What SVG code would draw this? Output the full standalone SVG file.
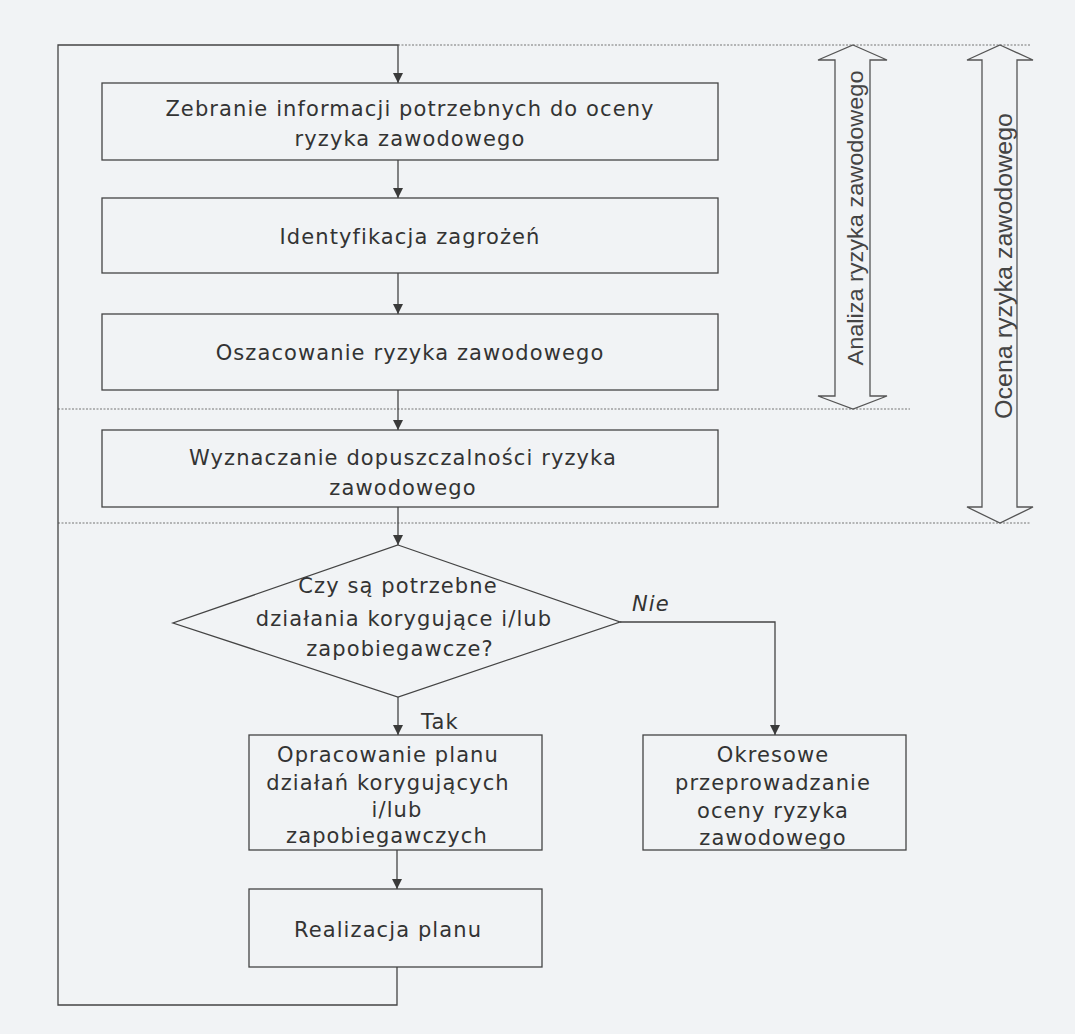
<svg xmlns="http://www.w3.org/2000/svg" width="1075" height="1034" viewBox="0 0 1075 1034">
<defs>
<marker id="ah" viewBox="0 0 10 10" refX="10" refY="5" markerWidth="10" markerHeight="10" markerUnits="userSpaceOnUse" orient="auto">
<path d="M0,0 L10,5 L0,10 z" fill="#3a3a3a"/>
</marker>
<style>
.box{fill:none;stroke:#444;stroke-width:1.3}
.ln{fill:none;stroke:#444;stroke-width:1.3}
.dot{fill:none;stroke:#777;stroke-width:1.2;stroke-dasharray:2,1.5}
.t{font-family:"DejaVu Sans",Verdana,sans-serif;font-size:21px;letter-spacing:1.1px;fill:#333;text-anchor:middle}
.s{font-family:"Liberation Sans",Arial,sans-serif;fill:#444;text-anchor:middle}
.dbl{fill:none;stroke:#555;stroke-width:1.3}
</style>
</defs>
<rect width="1075" height="1034" fill="#f1f3f5"/>
<g id="guides">
<line class="dot" x1="398" y1="45" x2="1030" y2="45"/>
<line class="dot" x1="58" y1="409" x2="910" y2="409"/>
<line class="dot" x1="58" y1="523" x2="1030" y2="523"/>
</g>
<g id="connectors">
<path class="ln" d="M397,967 V1005 H58 V45 H398 V83" marker-end="url(#ah)"/>
<line class="ln" x1="398" y1="160" x2="398" y2="198" marker-end="url(#ah)"/>
<line class="ln" x1="398" y1="273" x2="398" y2="314" marker-end="url(#ah)"/>
<line class="ln" x1="398" y1="390" x2="398" y2="430" marker-end="url(#ah)"/>
<line class="ln" x1="398" y1="507" x2="398" y2="545" marker-end="url(#ah)"/>
<line class="ln" x1="398" y1="697" x2="398" y2="735" marker-end="url(#ah)"/>
<path class="ln" d="M620,622 H775 V735" marker-end="url(#ah)"/>
<line class="ln" x1="397" y1="850" x2="397" y2="889" marker-end="url(#ah)"/>
<text class="t" x="421" y="729" style="text-anchor:start">Tak</text>
<text class="t" x="632" y="611" style="text-anchor:start;font-style:italic">Nie</text>
</g>
<g id="n1"><rect class="box" x="102" y="83" width="616" height="77"/>
<text class="t" x="410" y="116">Zebranie informacji potrzebnych do oceny</text>
<text class="t" x="410" y="146">ryzyka zawodowego</text></g>
<g id="n2"><rect class="box" x="102" y="198" width="616" height="75"/>
<text class="t" x="410" y="244">Identyfikacja zagrożeń</text></g>
<g id="n3"><rect class="box" x="102" y="314" width="616" height="76"/>
<text class="t" x="410" y="360">Oszacowanie ryzyka zawodowego</text></g>
<g id="n4"><rect class="box" x="102" y="430" width="616" height="77"/>
<text class="t" x="403" y="465">Wyznaczanie dopuszczalności ryzyka</text>
<text class="t" x="403" y="495">zawodowego</text></g>
<g id="d1"><polygon class="box" points="398,545 620,622 398,697 173,623"/>
<text class="t" x="398" y="593">Czy są potrzebne</text>
<text class="t" x="404" y="626">działania korygujące i/lub</text>
<text class="t" x="400" y="656">zapobiegawcze?</text></g>
<g id="n5"><rect class="box" x="249" y="735" width="293" height="115"/>
<text class="t" x="388" y="762">Opracowanie planu</text>
<text class="t" x="388" y="790">działań korygujących</text>
<text class="t" x="397" y="817">i/lub</text>
<text class="t" x="387" y="843">zapobiegawczych</text></g>
<g id="n6"><rect class="box" x="643" y="735" width="263" height="115"/>
<text class="t" x="773" y="762">Okresowe</text>
<text class="t" x="773" y="790">przeprowadzanie</text>
<text class="t" x="773" y="818">oceny ryzyka</text>
<text class="t" x="773" y="845">zawodowego</text></g>
<g id="n7"><rect class="box" x="249" y="889" width="293" height="78"/>
<text class="t" x="388" y="937">Realizacja planu</text></g>
<g id="a1"><path class="dbl" d="M853,45 L887,60 H870 V396 H887 L853,409 L818,396 H835 V60 H818 Z"/>
<text class="s" font-size="22" textLength="295" lengthAdjust="spacingAndGlyphs" transform="translate(863,218) rotate(-90)">Analiza ryzyka zawodowego</text></g>
<g id="a2"><path class="dbl" d="M1000,45 L1033,60 H1017 V507 H1033 L1000,523 L967,507 H982 V60 H967 Z"/>
<text class="s" font-size="23.5" textLength="306" lengthAdjust="spacingAndGlyphs" transform="translate(1012,266) rotate(-90)">Ocena ryzyka zawodowego</text></g>
</svg>
